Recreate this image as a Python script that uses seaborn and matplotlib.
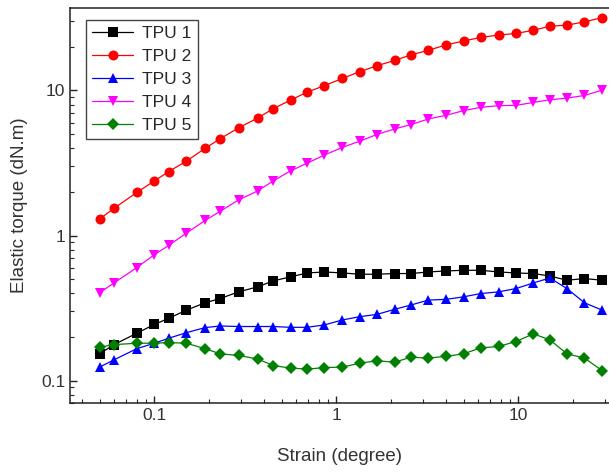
import matplotlib
matplotlib.use("Agg")
import matplotlib.pyplot as plt
import seaborn as sns
import pandas as pd
import numpy as np
from matplotlib.ticker import LogLocator, FixedLocator, FixedFormatter, NullFormatter

strain = [0.05, 0.06, 0.08, 0.1, 0.12, 0.15, 0.19, 0.23, 0.29, 0.37, 0.45, 0.56,
          0.69, 0.86, 1.08, 1.35, 1.67, 2.09, 2.57, 3.2, 4.0, 5.0, 6.2, 7.8, 9.7,
          12.1, 14.9, 18.5, 23.1, 28.9]

tpu1 = [0.153, 0.177, 0.212, 0.244, 0.269, 0.306, 0.344, 0.368, 0.409, 0.443, 0.487, 0.519,
        0.552, 0.561, 0.552, 0.541, 0.541, 0.547, 0.547, 0.561, 0.570, 0.576, 0.576, 0.561,
        0.552, 0.547, 0.526, 0.492, 0.505, 0.492]
tpu2 = [1.30, 1.54, 1.98, 2.38, 2.76, 3.26, 3.99, 4.65, 5.52, 6.46, 7.49, 8.58,
        9.73, 10.8, 12.1, 13.5, 14.8, 16.1, 17.6, 18.9, 20.6, 21.9, 23.2, 24.1,
        24.7, 26.0, 27.7, 28.2, 29.7, 31.8]
tpu3 = [0.124, 0.139, 0.166, 0.181, 0.196, 0.214, 0.232, 0.238, 0.236, 0.236, 0.236, 0.233,
        0.233, 0.242, 0.262, 0.276, 0.286, 0.310, 0.332, 0.359, 0.363, 0.378, 0.398, 0.409,
        0.431, 0.471, 0.510, 0.431, 0.344, 0.306]
tpu4 = [0.403, 0.471, 0.601, 0.738, 0.855, 1.04, 1.27, 1.47, 1.76, 2.03, 2.38, 2.79,
        3.15, 3.59, 4.05, 4.48, 4.97, 5.43, 5.82, 6.36, 6.74, 7.26, 7.65, 7.86,
        7.89, 8.27, 8.63, 8.85, 9.24, 10.05]
tpu5 = [0.170, 0.177, 0.181, 0.181, 0.183, 0.181, 0.166, 0.153, 0.149, 0.141, 0.127, 0.122,
        0.120, 0.123, 0.124, 0.132, 0.137, 0.134, 0.145, 0.143, 0.147, 0.153, 0.168, 0.172,
        0.186, 0.210, 0.191, 0.153, 0.143, 0.117]

series_names = ["TPU 1", "TPU 2", "TPU 3", "TPU 4", "TPU 5"]
series_values = [tpu1, tpu2, tpu3, tpu4, tpu5]
colors = {"TPU 1": "#000000", "TPU 2": "#FF0000", "TPU 3": "#0000FF",
          "TPU 4": "#FF00FF", "TPU 5": "#008000"}
markers = {"TPU 1": "s", "TPU 2": "o", "TPU 3": "^", "TPU 4": "v", "TPU 5": "D"}

rows = []
for name, vals in zip(series_names, series_values):
    for s, v in zip(strain, vals):
        rows.append({"Strain": s, "Torque": v, "Sample": name})
df = pd.DataFrame(rows)

sns.set_style("ticks")
plt.rcParams["font.family"] = ["Liberation Sans", "DejaVu Sans"]
plt.rcParams["xtick.direction"] = "in"
plt.rcParams["ytick.direction"] = "in"

fig = plt.figure(figsize=(6.09, 4.72), dpi=100)
ax = fig.add_axes([0.115, 0.146, 0.885, 0.837])

sizes = {"TPU 1": 6.5, "TPU 2": 7.2, "TPU 3": 7.5, "TPU 4": 7.5, "TPU 5": 6.5}
for name in series_names:
    sub = df[df["Sample"] == name]
    sns.lineplot(data=sub, x="Strain", y="Torque", ax=ax, color=colors[name],
                 marker=markers[name], markersize=sizes[name], markeredgewidth=0,
                 linewidth=0.9, label=name, estimator=None, sort=False)

ax.set_xscale("log")
ax.set_yscale("log")
ax.set_xlim(0.0344, 31.5)
ax.set_ylim(0.070, 37)

ax.xaxis.set_major_locator(FixedLocator([0.1, 1, 10]))
ax.xaxis.set_major_formatter(FixedFormatter(["0.1", "1", "10"]))
ax.yaxis.set_major_locator(FixedLocator([0.1, 1, 10]))
ax.yaxis.set_major_formatter(FixedFormatter(["0.1", "1", "10"]))
ax.xaxis.set_minor_locator(LogLocator(base=10, subs=np.arange(2, 10), numticks=20))
ax.yaxis.set_minor_locator(LogLocator(base=10, subs=np.arange(2, 10), numticks=20))
ax.xaxis.set_minor_formatter(NullFormatter())
ax.yaxis.set_minor_formatter(NullFormatter())

ax.tick_params(which="major", length=5, width=1, labelsize=12.5, colors="#222222",
               labelcolor="#333333", top=False, right=False)
ax.tick_params(which="minor", length=3, width=0.8, top=False, right=False)
for sp in ["left", "bottom", "top"]:
    ax.spines[sp].set_color("#222222")
    ax.spines[sp].set_linewidth(1.1)
ax.spines["right"].set_visible(False)

ax.set_xlabel("Strain (degree)", fontsize=13.5, color="#333333", labelpad=18)
ax.set_ylabel("Elastic torque (dN.m)", fontsize=13.5, color="#333333", labelpad=9)

leg = ax.legend(loc="upper left", bbox_to_anchor=(0.029, 0.970), fontsize=12.5,
                frameon=True, fancybox=False, framealpha=1, edgecolor="#444444",
                handlelength=2.4, labelspacing=0.45, borderpad=0.35,
                handletextpad=0.5, borderaxespad=0)
leg.get_frame().set_linewidth(1.0)

fig.savefig("out.png", dpi=100)
